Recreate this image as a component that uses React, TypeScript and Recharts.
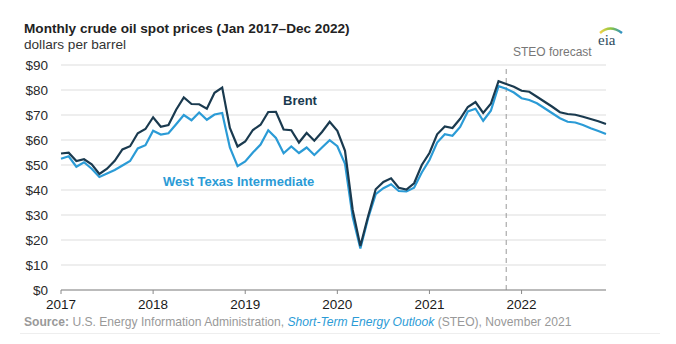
import { LineChart, Line, XAxis, YAxis, CartesianGrid, ReferenceLine } from "recharts"

// monthly values, Jan 2017 .. Dec 2022 (Nov 2021 onward = STEO forecast)
const YEARS = ["2017", "2018", "2019", "2020", "2021", "2022"]
const MONTH_NAMES = ["Jan", "Feb", "Mar", "Apr", "May", "Jun", "Jul", "Aug", "Sep", "Oct", "Nov", "Dec"]

const BRENT = [
  54.6, 54.9, 51.6, 52.3, 50.3, 46.4, 48.5, 51.7, 56.2, 57.5, 62.7, 64.4,
  69.1, 65.3, 66.0, 72.1, 77.0, 74.4, 74.3, 72.5, 78.9, 81.0, 64.8, 57.4,
  59.4, 64.0, 66.1, 71.2, 71.3, 64.2, 63.9, 59.0, 62.8, 59.7, 63.2, 67.3,
  63.7, 55.7, 32.0, 17.6, 29.4, 40.3, 43.2, 44.7, 40.9, 40.2, 42.7, 50.0,
  54.8, 62.3, 65.4, 64.8, 68.5, 73.2, 75.2, 70.8, 74.5, 83.5, 82.4, 81.3,
  79.7, 79.3, 77.3, 75.3, 73.3, 71.1, 70.4, 70.1, 69.3, 68.4, 67.5, 66.4,
]

const WTI = [
  52.5, 53.5, 49.3, 51.1, 48.5, 45.2, 46.6, 48.0, 49.8, 51.6, 56.6, 57.9,
  63.7, 62.2, 62.7, 66.3, 70.0, 67.9, 71.0, 68.1, 70.2, 70.8, 57.0, 49.5,
  51.4, 55.0, 58.2, 63.9, 60.8, 54.7, 57.4, 54.8, 57.0, 54.0, 57.0, 59.9,
  57.5, 50.5, 29.2, 16.6, 28.6, 38.3, 40.7, 42.3, 39.6, 39.4, 40.9, 47.0,
  52.0, 59.0, 62.3, 61.7, 65.2, 71.4, 72.5, 67.7, 71.7, 81.5, 80.5, 79.0,
  76.7, 76.0, 74.7, 72.7, 70.7, 68.7, 67.3, 67.0, 66.0, 64.7, 63.6, 62.4,
]

const Y_TICKS = [0, 10, 20, 30, 40, 50, 60, 70, 80, 90]
const X_TICKS = [0, 12, 24, 36, 48, 60]
const FORECAST_START = 58 // Nov 2021

const data = BRENT.map((b, i) => ({
  i,
  month: `${MONTH_NAMES[i % 12]} ${YEARS[Math.floor(i / 12)]}`,
  brent: b,
  wti: WTI[i],
}))

const FONT = "'Liberation Sans', Arial, sans-serif"
const BRENT_COLOR = "#1a3a4f"
const WTI_COLOR = "#2b9bd6"

export default function App() {
  return (
    <div
      style={{
        position: "absolute",
        left: 0,
        top: 0,
        width: 676,
        height: 344,
        background: "#fff",
        fontFamily: FONT,
        overflow: "hidden",
      }}
    >
      {/* Title */}
      <div style={{ position: "absolute", left: 24, top: 21, fontSize: 13.6, fontWeight: 700, color: "#222" }}>
        Monthly crude oil spot prices (Jan 2017–Dec 2022)
      </div>
      <div style={{ position: "absolute", left: 24, top: 37, fontSize: 13.6, color: "#333" }}>
        dollars per barrel
      </div>

      {/* eia logo */}
      <svg style={{ position: "absolute", left: 594, top: 24 }} width={36} height={24}>
        <defs>
          <linearGradient id="eiaArc" x1="0" y1="0" x2="1" y2="0">
            <stop offset="0%" stopColor="#f2d24a" />
            <stop offset="50%" stopColor="#8cc63f" />
            <stop offset="100%" stopColor="#2b8fc9" />
          </linearGradient>
        </defs>
        <path d="M6 9 Q16 0 28 9" stroke="url(#eiaArc)" strokeWidth={2.5} fill="none" />
        <text x={4} y={21} fontFamily="'Liberation Serif', 'DejaVu Serif', serif" fontSize={15} fill="#2c4a5e">
          eia
        </text>
      </svg>

      <div style={{ position: "absolute", left: 513, top: 45, fontSize: 12, color: "#777" }}>STEO forecast</div>

      <LineChart width={676} height={344} data={data} margin={{ top: 65, right: 70, bottom: 24, left: 0 }}>
        <CartesianGrid horizontal vertical={false} stroke="#dddddd" />
        <XAxis
          dataKey="i"
          type="number"
          domain={[0, 71]}
          ticks={X_TICKS}
          tickFormatter={(v: number) => YEARS[v / 12]}
          axisLine={{ stroke: "#888" }}
          tickLine={{ stroke: "#888" }}
          tickSize={4}
          tickMargin={5}
          tick={{ fill: "#1a1a1a", fontSize: 13.5, fontFamily: FONT }}
          height={30}
        />
        <YAxis
          type="number"
          domain={[0, 90]}
          ticks={Y_TICKS}
          tickFormatter={(v: number) => `$${v}`}
          axisLine={false}
          tickLine={false}
          tickMargin={7}
          width={61}
          tick={{ fill: "#2a2a2a", fontSize: 13.5, fontFamily: FONT }}
        />
        <ReferenceLine x={FORECAST_START} stroke="#999" strokeDasharray="5 4" strokeWidth={1} />
        <Line
          type="linear"
          dataKey="wti"
          stroke={WTI_COLOR}
          strokeWidth={2.2}
          dot={false}
          isAnimationActive={false}
        />
        <Line
          type="linear"
          dataKey="brent"
          stroke={BRENT_COLOR}
          strokeWidth={2.2}
          dot={false}
          isAnimationActive={false}
        />
      </LineChart>

      {/* series labels */}
      <div style={{ position: "absolute", left: 283, top: 93, fontSize: 13, fontWeight: 700, color: BRENT_COLOR }}>
        Brent
      </div>
      <div style={{ position: "absolute", left: 163, top: 174, fontSize: 13, fontWeight: 700, color: WTI_COLOR }}>
        West Texas Intermediate
      </div>

      {/* Source */}
      <div style={{ position: "absolute", left: 24, top: 315, fontSize: 12.1, color: "#999", whiteSpace: "nowrap" }}>
        <span style={{ fontWeight: 700 }}>Source:</span> U.S. Energy Information Administration,{" "}
        <span style={{ fontStyle: "italic", color: WTI_COLOR }}>Short-Term Energy Outlook</span> (STEO), November 2021
      </div>
      <div style={{ position: "absolute", left: 20, top: 333, width: 640, height: 1, background: "#eee" }} />
    </div>
  )
}
